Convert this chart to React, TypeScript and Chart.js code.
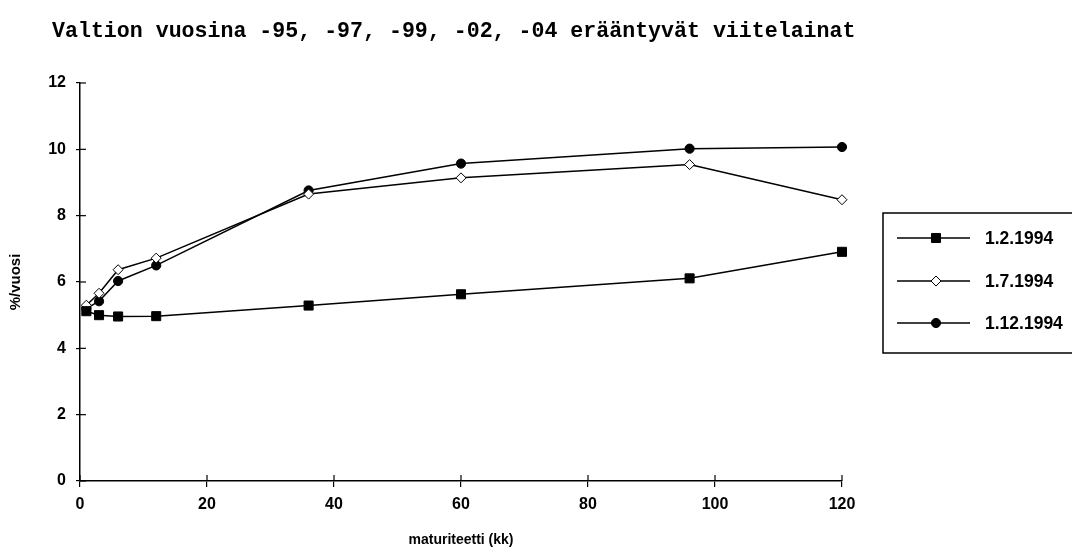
import React, { useEffect, useRef } from 'react';
import { Chart, registerables } from 'chart.js';

Chart.register(...registerables);

const TITLE = 'Valtion vuosina -95, -97, -99, -02, -04 erääntyvät viitelainat';
const X_TITLE = 'maturiteetti (kk)';
const Y_TITLE = '%/vuosi';

const maturities = [1, 3, 6, 12, 36, 60, 96, 120];
const seriesLabels = ['1.2.1994', '1.7.1994', '1.12.1994'];
const feb1994 = [5.12, 5.0, 4.96, 4.97, 5.29, 5.63, 6.11, 6.91];
const jul1994 = [5.3, 5.66, 6.37, 6.72, 8.65, 9.14, 9.54, 8.48];
const dec1994 = [5.2, 5.42, 6.03, 6.5, 8.76, 9.57, 10.02, 10.07];

const X_MIN = 0;
const X_MAX = 120;
const X_STEP = 20;
const Y_MIN = 0;
const Y_MAX = 12;
const Y_STEP = 2;

const BOLD_SANS = "'Liberation Sans', Arial, sans-serif";

function drawMarker(ctx: CanvasRenderingContext2D, style: string, x: number, y: number, r: number, fill: string) {
  ctx.save();
  ctx.beginPath();
  if (style === 'rect') {
    const s = r * Math.SQRT1_2;
    ctx.rect(x - s, y - s, 2 * s, 2 * s);
  } else if (style === 'rectRot') {
    ctx.moveTo(x, y - r);
    ctx.lineTo(x + r, y);
    ctx.lineTo(x, y + r);
    ctx.lineTo(x - r, y);
    ctx.closePath();
  } else {
    ctx.arc(x, y, r, 0, Math.PI * 2);
  }
  ctx.fillStyle = fill;
  ctx.fill();
  ctx.strokeStyle = '#000';
  ctx.lineWidth = 1;
  ctx.stroke();
  ctx.restore();
}

const crossTicksPlugin = {
  id: 'crossTicks',
  afterDraw(chart: any) {
    const ctx = chart.ctx as CanvasRenderingContext2D;
    const { left, bottom } = chart.chartArea;
    const xs = chart.scales.x;
    const ys = chart.scales.y;
    ctx.save();
    ctx.strokeStyle = '#000';
    ctx.lineWidth = 1.2;
    xs.ticks.forEach((t: any) => {
      const px = xs.getPixelForValue(t.value);
      ctx.beginPath();
      ctx.moveTo(px, bottom);
      ctx.lineTo(px, bottom - 6);
      ctx.stroke();
    });
    ys.ticks.forEach((t: any) => {
      const py = ys.getPixelForValue(t.value);
      ctx.beginPath();
      ctx.moveTo(left, py);
      ctx.lineTo(left + 6, py);
      ctx.stroke();
    });
    ctx.restore();
  },
};

const headerPlugin = {
  id: 'header',
  afterDraw(chart: any) {
    const ctx = chart.ctx as CanvasRenderingContext2D;
    ctx.save();
    ctx.fillStyle = '#000';
    ctx.font = "bold 21.6px 'Liberation Mono', 'Courier New', monospace";
    ctx.textAlign = 'left';
    ctx.textBaseline = 'middle';
    ctx.fillText(TITLE, 52, 32);
    ctx.restore();
  },
};

const boxLegendPlugin = {
  id: 'boxLegend',
  afterDraw(chart: any) {
    const ctx = chart.ctx as CanvasRenderingContext2D;
    const boxLeft = 883;
    const boxTop = 213;
    const boxBottom = 353;
    ctx.save();
    ctx.strokeStyle = '#000';
    ctx.lineWidth = 1.5;
    ctx.beginPath();
    ctx.rect(boxLeft, boxTop, 1090 - boxLeft, boxBottom - boxTop);
    ctx.stroke();
    const rowY = [238, 281, 323];
    chart.data.datasets.forEach((ds: any, i: number) => {
      const y = rowY[i];
      ctx.beginPath();
      ctx.strokeStyle = '#000';
      ctx.lineWidth = 1.5;
      ctx.moveTo(897, y);
      ctx.lineTo(970, y);
      ctx.stroke();
      drawMarker(ctx, ds.pointStyle, 936, y, ds.pointRadius, ds.pointBackgroundColor);
      ctx.fillStyle = '#000';
      ctx.font = `bold 17.5px ${BOLD_SANS}`;
      ctx.textAlign = 'left';
      ctx.textBaseline = 'middle';
      ctx.fillText(ds.label, 985, y + 1);
    });
    ctx.restore();
  },
};

export default function App() {
  const canvasRef = useRef<HTMLCanvasElement | null>(null);

  useEffect(() => {
    if (!canvasRef.current) return;
    const mk = (label: string, values: number[], pointStyle: string, radius: number, fill: string) => ({
      label,
      data: maturities.map((m, i) => ({ x: m, y: values[i] })),
      borderColor: '#000',
      borderWidth: 1.5,
      pointStyle,
      pointRadius: radius,
      pointHoverRadius: radius,
      pointBackgroundColor: fill,
      pointBorderColor: '#000',
      pointBorderWidth: 1,
      tension: 0,
      fill: false,
      clip: false,
    });
    const chart = new Chart(canvasRef.current, {
      type: 'line',
      data: {
        datasets: [
          mk(seriesLabels[0], feb1994, 'rect', 6.4, '#000'),
          mk(seriesLabels[1], jul1994, 'rectRot', 5, '#fff'),
          mk(seriesLabels[2], dec1994, 'circle', 4.6, '#000'),
        ],
      },
      options: {
        responsive: false,
        animation: false,
        layout: { padding: { top: 83, right: 230, bottom: 0, left: 0 } },
        plugins: {
          legend: { display: false },
          title: { display: false },
          tooltip: { enabled: false },
        },
        scales: {
          x: {
            type: 'linear',
            min: X_MIN,
            max: X_MAX,
            ticks: {
              stepSize: X_STEP,
              color: '#000',
              font: { family: BOLD_SANS, size: 16, weight: 'bold' },
              padding: 8,
            },
            grid: { drawOnChartArea: false, drawTicks: true, tickLength: 6, color: '#000', lineWidth: 1.2 },
            border: { color: '#000', width: 1.5 },
            title: {
              display: true,
              text: X_TITLE,
              color: '#000',
              font: { family: BOLD_SANS, size: 14, weight: 'bold' },
              padding: { top: 0, bottom: 4 },
            },
            afterFit: (s: any) => {
              s.height = 72;
            },
          },
          y: {
            type: 'linear',
            min: Y_MIN,
            max: Y_MAX,
            ticks: {
              stepSize: Y_STEP,
              color: '#000',
              font: { family: BOLD_SANS, size: 16, weight: 'bold' },
              padding: 10,
            },
            grid: { drawOnChartArea: false, drawTicks: true, tickLength: 4, color: '#000', lineWidth: 1.2 },
            border: { color: '#000', width: 1.5 },
            title: {
              display: true,
              text: Y_TITLE,
              color: '#000',
              font: { family: BOLD_SANS, size: 15, weight: 'bold' },
              padding: { top: 7, bottom: 0 },
            },
            afterFit: (s: any) => {
              s.width = 80;
            },
          },
        },
      } as any,
      plugins: [crossTicksPlugin, headerPlugin, boxLegendPlugin],
    });
    return () => chart.destroy();
  }, []);

  return (
    <div style={{ position: 'absolute', left: 0, top: 0, width: 1072, height: 553, background: '#fff' }}>
      <canvas ref={canvasRef} width={1072} height={553} style={{ display: 'block' }} />
    </div>
  );
}
